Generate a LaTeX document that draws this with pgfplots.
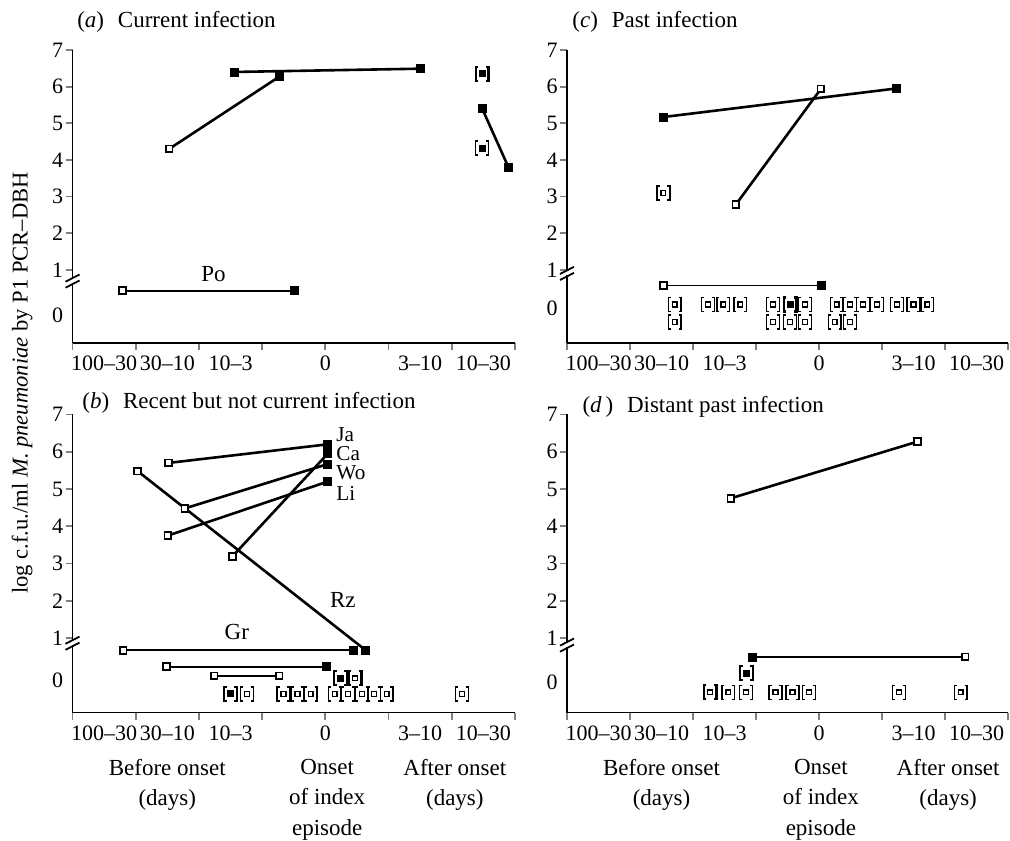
\documentclass[border=0pt]{standalone}
\usepackage{fontspec}
\setmainfont{Liberation Serif}
\usepackage{pgfplots}
\pgfplotsset{compat=1.18}

% bracketed square: value below the detection limit
\pgfdeclareplotmark{brk}{%
  \pgfpathmoveto{\pgfqpoint{-1.9pt}{3.5pt}}%
  \pgfpathlineto{\pgfqpoint{-3.2pt}{3.5pt}}%
  \pgfpathlineto{\pgfqpoint{-3.2pt}{-3.5pt}}%
  \pgfpathlineto{\pgfqpoint{-1.9pt}{-3.5pt}}%
  \pgfpathmoveto{\pgfqpoint{1.9pt}{3.5pt}}%
  \pgfpathlineto{\pgfqpoint{3.2pt}{3.5pt}}%
  \pgfpathlineto{\pgfqpoint{3.2pt}{-3.5pt}}%
  \pgfpathlineto{\pgfqpoint{1.9pt}{-3.5pt}}%
  \pgfusepathqstroke
  \pgfsetlinewidth{0.7pt}%
  \pgfpathrectangle{\pgfqpoint{-1.2pt}{-1.2pt}}{\pgfqpoint{2.4pt}{2.4pt}}%
  \pgfusepathqstroke
}
\pgfdeclareplotmark{brkf}{%
  \pgfpathmoveto{\pgfqpoint{-1.9pt}{3.5pt}}%
  \pgfpathlineto{\pgfqpoint{-3.2pt}{3.5pt}}%
  \pgfpathlineto{\pgfqpoint{-3.2pt}{-3.5pt}}%
  \pgfpathlineto{\pgfqpoint{-1.9pt}{-3.5pt}}%
  \pgfpathmoveto{\pgfqpoint{1.9pt}{3.5pt}}%
  \pgfpathlineto{\pgfqpoint{3.2pt}{3.5pt}}%
  \pgfpathlineto{\pgfqpoint{3.2pt}{-3.5pt}}%
  \pgfpathlineto{\pgfqpoint{1.9pt}{-3.5pt}}%
  \pgfusepathqstroke
  \pgfsetlinewidth{0.7pt}%
  \pgfpathrectangle{\pgfqpoint{-1.4pt}{-1.4pt}}{\pgfqpoint{2.8pt}{2.8pt}}%
  \pgfusepathqfillstroke
}

\pgfplotsset{
  panel/.style={
    scale only axis, clip=false, anchor=south west,
    xmin=0, xmax=7, ymin=-1, ymax=7,
    axis x line=bottom, axis y line=left,
    axis line style={-, line width=0.9pt},
    tick align=outside, major tick length=3.5pt,
    tick style={line width=0.9pt},
    xtick={0,...,7}, xticklabels={},
    extra x ticks={0.5,1.5,2.5,4,5.5,6.5},
    extra x tick labels={100--30,30--10,10--3,0,3--10,10--30},
    extra x tick style={major tick length=0pt, xticklabel style={yshift=-3pt}},
    ytick={1,...,7}, yticklabels={1,2,3,4,5,6,7},
    extra y tick labels={0},
    extra y tick style={major tick length=0pt, yticklabel style={xshift=-3.5pt}},
    tick label style={font=\fontsize{11}{12}\selectfont},
    yticklabel style={inner sep=1pt},
  },
  ln/.style={black, line width=1.3pt, no marks},
  lnt/.style={black, line width=0.9pt, no marks},
  opn/.style={only marks, mark=square*, mark size=1.7pt,
    mark options={fill=white, draw=black, line width=0.9pt}},
  fld/.style={only marks, mark=square*, mark size=2pt,
    mark options={fill=black, draw=black}},
  bro/.style={only marks, mark=brk, mark options={black, line width=1.1pt}},
  brf/.style={only marks, mark=brkf, mark options={black, fill=black, line width=1.1pt}},
}
\tikzset{
  ttl/.style={anchor=west, inner sep=0pt},
  lab/.style={anchor=west, inner sep=0pt},
  nm/.style={anchor=west, inner sep=0pt, font=\fontsize{10.6}{11}\selectfont},
  bot/.style={anchor=north, inner sep=0pt, align=center, yshift=-23pt,
    font=\fontsize{11.5}{15.4}\selectfont},
}

\newcommand\axbreak[1]{%
  \draw[white, line width=2pt] ([yshift=-1pt]#1) -- ([yshift=1pt]#1);
  \draw[black, line width=0.9pt] ([xshift=-3.5pt,yshift=-3.3pt]#1) -- ++(7pt,3.6pt);
  \draw[black, line width=0.9pt] ([xshift=-3.5pt,yshift=-0.3pt]#1) -- ++(7pt,3.6pt);
}

\begin{document}
\begin{tikzpicture}[font=\fontsize{11.5}{15.75}\selectfont]

% (a) current infection
\begin{axis}[panel, at={(36.25pt,248.5pt)}, width=221.2pt, height=146.5pt,
  extra y ticks={-0.23}]
  \addplot[ln] coordinates {(1.53,4.30) (3.27,6.27)};
  \addplot[ln] coordinates {(2.56,6.40) (5.51,6.49)};
  \addplot[ln] coordinates {(6.48,5.41) (6.90,3.79)};
  \addplot[lnt] coordinates {(0.79,0.43) (3.51,0.43)};
  \addplot[opn] coordinates {(1.53,4.30) (0.79,0.43)};
  \addplot[fld] coordinates {(3.27,6.27) (2.56,6.40) (5.51,6.49) (6.48,5.41) (6.90,3.79) (3.51,0.43)};
  \addplot[brf] coordinates {(6.48,6.35) (6.48,4.32)};
  \node at (axis cs:2.23,0.88) {Po};
  \node[ttl, yshift=14pt] at (axis cs:0.07,7) {(\textit{a})\hspace{0.6em}Current infection};
  \coordinate (bA) at (axis cs:0,0.69);
\end{axis}
\axbreak{bA}

% (c) past infection
\begin{axis}[panel, at={(283.5pt,248.5pt)}, width=220.5pt, height=146.5pt,
  extra y ticks={-0.04}]
  \addplot[ln] coordinates {(1.53,5.17) (5.23,5.95)};
  \addplot[ln] coordinates {(2.68,2.78) (4.03,5.94)};
  \addplot[lnt] coordinates {(1.53,0.57) (4.04,0.57)};
  \addplot[opn] coordinates {(2.68,2.78) (4.03,5.94) (1.53,0.57)};
  \addplot[fld] coordinates {(1.53,5.17) (5.23,5.95) (4.04,0.57)};
  \addplot[bro] coordinates {
    (1.53,3.09)
    (1.71,0.05) (2.24,0.05) (2.48,0.05) (2.75,0.05) (3.27,0.05) (3.78,0.05)
    (4.28,0.05) (4.49,0.05) (4.70,0.05) (4.92,0.05) (5.24,0.05) (5.50,0.05) (5.72,0.05)
    (1.71,-0.43) (3.27,-0.43) (3.54,-0.43) (3.78,-0.43) (4.25,-0.43) (4.49,-0.43)};
  \addplot[brf] coordinates {(3.54,0.05)};
  \node[ttl, yshift=14pt] at (axis cs:0.08,7) {(\textit{c})\hspace{0.6em}Past infection};
  \coordinate (bC) at (axis cs:0,0.9);
\end{axis}
\axbreak{bC}

% (b) recent but not current infection
\begin{axis}[panel, at={(36.25pt,63.75pt)}, width=221.2pt, height=149pt,
  extra y ticks={-0.13}]
  \addplot[ln] coordinates {(1.52,5.70) (4.04,6.20)};
  \addplot[ln] coordinates {(2.53,3.19) (4.04,5.95)};
  \addplot[ln] coordinates {(1.78,4.48) (4.04,5.67)};
  \addplot[ln] coordinates {(1.51,3.75) (4.04,5.20)};
  \addplot[ln] coordinates {(1.03,5.48) (4.64,0.67)};
  \addplot[lnt] coordinates {(0.80,0.67) (4.45,0.67)};
  \addplot[lnt] coordinates {(1.49,0.23) (4.01,0.23)};
  \addplot[lnt] coordinates {(2.24,-0.02) (3.27,-0.02)};
  \addplot[opn] coordinates {(1.52,5.70) (2.53,3.19) (1.78,4.48) (1.51,3.75) (1.03,5.48)
    (0.80,0.67) (1.49,0.23) (2.24,-0.02) (3.27,-0.02)};
  \addplot[fld] coordinates {(4.04,6.20) (4.04,5.95) (4.04,5.67) (4.04,5.20) (4.64,0.67)
    (4.45,0.67) (4.01,0.23)};
  \addplot[bro] coordinates {(4.47,-0.08)
    (2.76,-0.50) (3.34,-0.50) (3.56,-0.50) (3.77,-0.50) (4.15,-0.50) (4.36,-0.50)
    (4.58,-0.50) (4.77,-0.50) (4.97,-0.50) (6.16,-0.50)};
  \addplot[brf] coordinates {(4.24,-0.08) (2.50,-0.50)};
  \node[nm] at (axis cs:4.17,6.47) {Ja};
  \node[nm] at (axis cs:4.17,5.95) {Ca};
  \node[nm] at (axis cs:4.17,5.43) {Wo};
  \node[nm] at (axis cs:4.17,4.89) {Li};
  \node[lab] at (axis cs:4.07,2.03) {Rz};
  \node at (axis cs:2.60,1.17) {Gr};
  \node[ttl, yshift=5.75pt] at (axis cs:0.15,7) {(\textit{b})\hspace{0.6em}Recent but not current infection};
  \node[bot] at (axis cs:1.5,-1) {Before onset\\(days)};
  \node[bot] at (axis cs:4.03,-1) {Onset\\of index\\episode};
  \node[bot] at (axis cs:6.05,-1) {After onset\\(days)};
  \coordinate (bB) at (axis cs:0,0.86);
\end{axis}
\axbreak{bB}

% (d) distant past infection
\begin{axis}[panel, at={(283.5pt,63.75pt)}, width=220.5pt, height=149pt,
  extra y ticks={-0.18}]
  \addplot[ln] coordinates {(2.60,4.75) (5.56,6.27)};
  \addplot[lnt] coordinates {(2.94,0.49) (6.32,0.49)};
  \addplot[opn] coordinates {(2.60,4.75) (5.56,6.27) (6.32,0.49)};
  \addplot[fld] coordinates {(2.94,0.49)};
  \addplot[bro] coordinates {(2.27,-0.46) (2.56,-0.46) (2.84,-0.46) (3.31,-0.46)
    (3.58,-0.46) (3.84,-0.46) (5.27,-0.46) (6.25,-0.46)};
  \addplot[brf] coordinates {(2.85,0.05)};
  \node[ttl, yshift=3.75pt] at (axis cs:0.24,7) {(\textit{d}\,)\hspace{0.6em}Distant past infection};
  \node[bot] at (axis cs:1.5,-1) {Before onset\\(days)};
  \node[bot] at (axis cs:4.03,-1) {Onset\\of index\\episode};
  \node[bot] at (axis cs:6.05,-1) {After onset\\(days)};
  \coordinate (bD) at (axis cs:0,0.81);
\end{axis}
\axbreak{bD}

\node[rotate=90, font=\fontsize{11.3}{13}\selectfont] at (11pt,228.5pt) {log c.f.u./ml \textit{M. pneumoniae} by P1 PCR--DBH};

\pgfresetboundingbox
\useasboundingbox (0,0) rectangle (505pt,420pt);
\end{tikzpicture}
\end{document}
